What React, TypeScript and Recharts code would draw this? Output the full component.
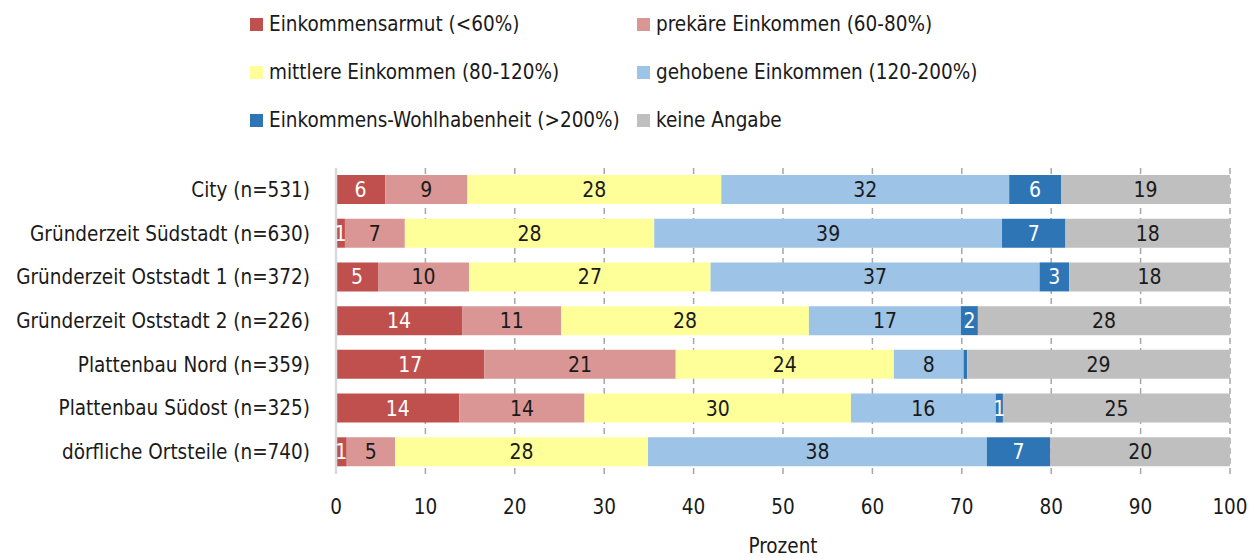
import { BarChart, Bar, XAxis, YAxis, CartesianGrid, LabelList } from "recharts";

const categories = [
  "City (n=531)",
  "Gründerzeit Südstadt (n=630)",
  "Gründerzeit Oststadt 1 (n=372)",
  "Gründerzeit Oststadt 2 (n=226)",
  "Plattenbau Nord (n=359)",
  "Plattenbau Südost (n=325)",
  "dörfliche Ortsteile (n=740)",
];

const armut = [5.5, 1.0, 4.7, 14.1, 16.6, 13.8, 1.2];
const prekaer = [9.2, 6.7, 10.2, 11.1, 21.4, 14.0, 5.4];
const mittlere = [28.4, 27.9, 27.0, 27.7, 24.4, 29.8, 28.3];
const gehoben = [32.2, 38.9, 36.8, 17.0, 7.8, 16.2, 37.9];
const wohlhabend = [5.8, 7.1, 3.3, 1.9, 0.4, 0.8, 7.1];
const keine = [18.9, 18.4, 18.0, 28.2, 29.4, 25.4, 20.1];

const xTicks = [0, 10, 20, 30, 40, 50, 60, 70, 80, 90, 100];

const series = [
  { key: "armut", name: "Einkommensarmut (<60%)", color: "#C0504D", text: "#fff" },
  { key: "prekaer", name: "prekäre Einkommen (60-80%)", color: "#D99694", text: "#1a1a1a" },
  { key: "mittlere", name: "mittlere Einkommen (80-120%)", color: "#FFFF99", text: "#1a1a1a" },
  { key: "gehoben", name: "gehobene Einkommen (120-200%)", color: "#9DC3E6", text: "#1a1a1a" },
  { key: "wohlhabend", name: "Einkommens-Wohlhabenheit (>200%)", color: "#2E75B6", text: "#fff" },
  { key: "keine", name: "keine Angabe", color: "#BFBFBF", text: "#1a1a1a" },
];

const data = categories.map((name, i) => ({
  name,
  armut: armut[i],
  prekaer: prekaer[i],
  mittlere: mittlere[i],
  gehoben: gehoben[i],
  wohlhabend: wohlhabend[i],
  keine: keine[i],
}));

const FONT = "'DejaVu Sans Condensed', 'Liberation Sans Narrow', 'DejaVu Sans', sans-serif";

const YTick = ({ y, payload }: any) => (
  <text x={310} y={y} textAnchor="end" dominantBaseline="central" fontSize={20.5} fill="#1a1a1a" fontFamily={FONT} style={{ fontStretch: "condensed" }}>
    {payload.value}
  </text>
);

const XTick = ({ x, payload }: any) => (
  <text x={x} y={507} textAnchor="middle" dominantBaseline="central" fontSize={20.5} fill="#1a1a1a" fontFamily={FONT} style={{ fontStretch: "condensed" }}>
    {payload.value}
  </text>
);

const fmt = (v: any) => (v < 0.5 ? "" : Math.round(v));

// gridlines at the x ticks (domain is 0..100 across the plot width)
const gridX = (props: any) => {
  const sc = props && props.xAxis && props.xAxis.scale;
  if (typeof sc === "function") return xTicks.map((t) => sc(t));
  return xTicks.map((t) => props.offset.left + (t / 100) * props.offset.width);
};

export default function App() {
  return (
    <div style={{ position: "absolute", left: 0, top: 0, width: 1259, height: 558, background: "#fff", fontFamily: FONT, fontStretch: "condensed", color: "#1a1a1a" }}>
      {series.map((s, i) => (
        <div
          key={s.key}
          style={{
            position: "absolute",
            left: i % 2 === 0 ? 250 : 637,
            top: 24 + Math.floor(i / 2) * 48 - 14,
            height: 28,
            display: "flex",
            alignItems: "center",
            fontSize: 20.5,
            whiteSpace: "nowrap",
          }}
        >
          <span style={{ width: 13, height: 13, background: s.color, marginRight: 6, display: "inline-block" }} />
          {s.name}
        </div>
      ))}
      <div style={{ position: "absolute", left: 683, width: 200, top: 532, height: 28, lineHeight: "28px", textAlign: "center", fontSize: 20.5 }}>
        Prozent
      </div>
      <BarChart
        width={1259}
        height={558}
        data={data}
        layout="vertical"
        margin={{ top: 168, right: 29, bottom: 54, left: 0 }}
        barSize={29}
      >
        <CartesianGrid
          horizontal={false}
          vertical
          verticalCoordinatesGenerator={gridX}
          stroke="#a6a6a6"
          strokeDasharray="6 4"
          strokeWidth={1.5}
        />
        <XAxis type="number" domain={[0, 100]} ticks={xTicks} height={30} axisLine={false} tickLine={false} tick={<XTick />} interval={0} />
        <YAxis
          type="category"
          dataKey="name"
          width={336}
          axisLine={{ stroke: "#d9d9d9", strokeWidth: 2.5 }}
          tickLine={false}
          tick={<YTick />}
          interval={0}
        />
        {series.map((s) => (
          <Bar key={s.key} dataKey={s.key} name={s.name} stackId="a" fill={s.color} isAnimationActive={false}>
            <LabelList
              dataKey={s.key}
              position="center"
              formatter={fmt}
              fill={s.text}
              fontSize={21}
              fontFamily={FONT}
              style={{ fontStretch: "condensed" }}
            />
          </Bar>
        ))}
      </BarChart>
    </div>
  );
}
